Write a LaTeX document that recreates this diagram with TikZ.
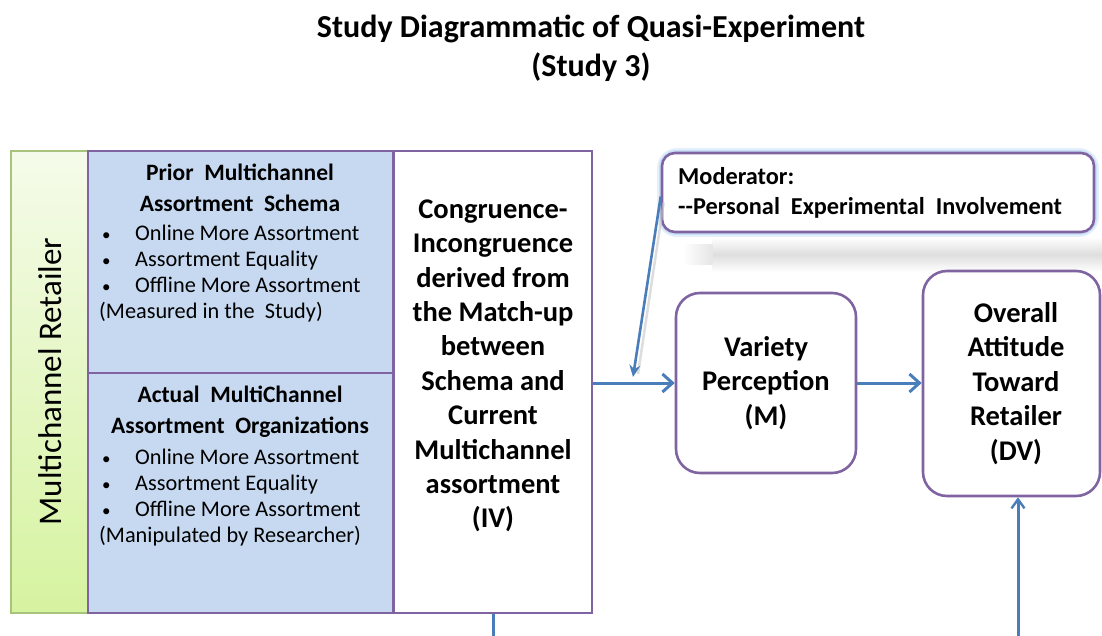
\documentclass[tikz,border=0pt]{standalone}
\usepackage{fontspec}
\setmainfont{Carlito}
\usetikzlibrary{arrows.meta,calc}
\definecolor{bordpurple}{HTML}{8064A2}
\definecolor{lineblue}{HTML}{4A7EBB}
\definecolor{boxblue}{HTML}{C6D9F1}
\definecolor{greentop}{HTML}{F5FBEA}
\definecolor{greenbot}{HTML}{D6F3A0}
\definecolor{greenbord}{HTML}{A8C47C}
\definecolor{glowblue}{HTML}{A9CCF2}
\tikzset{
  box/.style={draw=bordpurple, line width=2.6pt, inner sep=0pt},
  rbox/.style={box, fill=white, rounded corners=24pt},
  head/.style={font=\bfseries\fontsize{23.5}{31}\selectfont, align=center, inner sep=0pt},
  lst/.style={font=\fontsize{22.3}{26}\selectfont, align=left, inner sep=0pt, anchor=north west},
  big/.style={font=\bfseries\fontsize{28.5}{34.4}\selectfont, align=center, inner sep=0pt},
  arr/.style={draw=lineblue, line width=3pt, -{Straight Barb[length=10pt,width=18pt,line width=3pt]}},
  arrs/.style={draw=lineblue, line width=2.6pt, -{Stealth[length=12pt,width=11pt]}},
  plain/.style={draw=lineblue, line width=3pt}
}
\newcommand{\bul}{\makebox[36pt][l]{\hspace{3pt}{\fontsize{17}{17}\selectfont\textbullet}}}
\begin{document}
\begin{tikzpicture}[x=1pt,y=-1pt]
\useasboundingbox (0,0) rectangle (1102,636);
% title
\node[font=\bfseries\fontsize{32}{39}\selectfont, align=center, inner sep=0pt] (title) at (591,48) {Study Diagrammatic of Quasi-Experiment\\(Study 3)};
% green side box
\node[draw=greenbord, line width=1.2pt, top color=greentop, bottom color=greenbot, minimum width=77pt, minimum height=462pt, inner sep=0pt] (green) at (49.5,382) {};
\node[rotate=90, font=\fontsize{33}{36}\selectfont, inner sep=0pt] (greentxt) at (50,381.5) {Multichannel Retailer};
% blue boxes
\node[box, fill=boxblue, minimum width=305pt, minimum height=222pt] (prior) at (240.5,262) {};
\node[box, fill=boxblue, minimum width=305pt, minimum height=240pt] (actual) at (240.5,493) {};
\node[head] (priorh) at (240,187.5) {Prior\ \ Multichannel\\Assortment\ \ Schema};
\node[lst] (priorl) at (99,224.5) {\bul Online More Assortment\\\bul Assortment Equality\\\bul Offline More Assortment\\(Measured in the\ \ Study)};
\node[head] (actualh) at (240,411.5) {Actual\ \ MultiChannel\\Assortment\ \ Organizations};
\node[lst] (actuall) at (99,448.5) {\bul Online More Assortment\\\bul Assortment Equality\\\bul Offline More Assortment\\(Manipulated by Researcher)};
% IV box
\node[box, fill=white, minimum width=198pt, minimum height=462pt] (iv) at (493,382) {};
\node[big] (ivt) at (493,366) {Congruence-\\Incongruence\\derived from\\the Match-up\\between\\Schema and\\Current\\Multichannel\\assortment\\(IV)};
% moderator shadow and glow
\node[inner sep=0pt, minimum width=390pt, minimum height=35pt, top color=white, bottom color=white, middle color=black!13] (shadow) at (907,254.5) {};
\node[inner sep=0pt, minimum width=30pt, minimum height=20pt, left color=white, right color=black!10] (shadowl) at (697.5,254.5) {};
\draw[glowblue, line width=10pt, opacity=0.3, rounded corners=15pt] (662,153) rectangle (1094,232);
\draw[glowblue, line width=6pt, opacity=0.45, rounded corners=14pt] (662,153) rectangle (1094,232);
\node[rbox, rounded corners=13pt, minimum width=432pt, minimum height=79pt] (mod) at (878,192.5) {};
\node[font=\bfseries\fontsize{24.3}{30}\selectfont, align=left, inner sep=0pt, anchor=west] (modt) at (678,193) {Moderator:\\-{}-Personal\ \ Experimental\ \ Involvement};
% M and DV boxes
\node[rbox, minimum width=180pt, minimum height=180pt] (var) at (766,383) {};
\node[big] (vart) at (766,383) {Variety\\Perception\\(M)};
\node[rbox, minimum width=177pt, minimum height=225pt] (dv) at (1011.5,383.5) {};
\node[big] (dvt) at (1016,383.5) {Overall\\Attitude\\Toward\\Retailer\\(DV)};
% connectors
\draw[arr] (iv.east |- var.west) -- (var.west);
\draw[arr] (var.east) -- (var.east -| dv.west);
\coordinate (modtip) at (633,377);
\draw[black!22, line width=2.5pt, opacity=0.6] ($(mod.west)+(3,10)$) -- ($(modtip)+(5,-3)$);
\draw[arrs] ($(mod.west)+(0,4)$) -- (modtip);
\coordinate (ivdown) at (493,636);
\draw[plain] (iv.south -| ivdown) -- (ivdown);
\coordinate (dvup) at (1018,636);
\draw[plain, -{Straight Barb[length=9pt,width=13pt,line width=2.4pt]}] (dvup) -- (dvup |- dv.south);
\end{tikzpicture}
\end{document}
